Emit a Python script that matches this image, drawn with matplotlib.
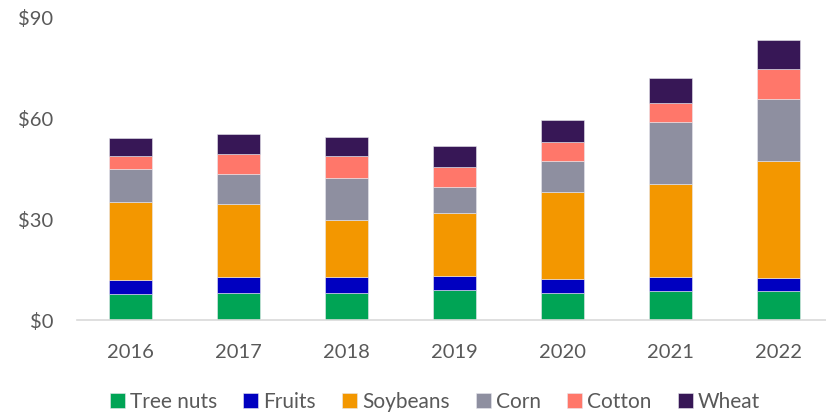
import numpy as np
import matplotlib.pyplot as plt

plt.rcParams['font.family'] = ['Lato', 'DejaVu Sans']

years = ['2016', '2017', '2018', '2019', '2020', '2021', '2022']
crops = ['Tree nuts', 'Fruits', 'Soybeans', 'Corn', 'Cotton', 'Wheat']
colors = ['#00A455', '#0000C0', '#F39700', '#8E8FA0', '#FF776A', '#371756']

# export values by crop, billions of dollars
tree_nuts = [7.8, 8.2, 8.2, 8.9, 8.2, 8.7, 8.8]
fruits = [4.3, 4.7, 4.7, 4.3, 4.2, 4.3, 3.9]
soybeans = [23.0, 21.6, 17.0, 18.6, 25.6, 27.5, 34.6]
corn = [9.8, 9.0, 12.5, 7.7, 9.2, 18.5, 18.4]
cotton = [4.0, 5.9, 6.5, 6.1, 5.9, 5.7, 9.1]
wheat = [5.3, 6.0, 5.5, 6.3, 6.4, 7.2, 8.4]

series = [tree_nuts, fruits, soybeans, corn, cotton, wheat]

fig, ax = plt.subplots(figsize=(8.26, 4.15), dpi=100)
fig.subplots_adjust(left=0.093, right=1.008, top=0.958, bottom=0.228)

x = np.arange(len(years))
bottom = np.zeros(len(years))
for name, vals, c in zip(crops, series, colors):
    ax.bar(x, vals, 0.4, bottom=bottom, color=c, label=name,
           edgecolor='#e8e8ee', linewidth=0.4)
    bottom += np.array(vals)

ax.set_ylim(0, 90)
ax.set_xlim(-0.5, len(years) - 0.5)
ax.set_yticks([0, 30, 60, 90])
ax.set_yticklabels(['$0', '$30', '$60', '$90'])
ax.set_xticks(x)
ax.set_xticklabels(years)
ax.tick_params(length=0, labelsize=14.5, colors='#595959')
ax.tick_params(axis='y', pad=17)
ax.tick_params(axis='x', pad=17)

for s in ['top', 'right', 'left']:
    ax.spines[s].set_visible(False)
ax.spines['bottom'].set_color('#d9d9d9')
ax.spines['bottom'].set_linewidth(1.2)

leg = ax.legend(loc='upper center', bbox_to_anchor=(0.474, -0.208), ncol=6,
                frameon=False, fontsize=15, handlelength=0.72, handleheight=0.72,
                handletextpad=0.25, columnspacing=1.25, borderaxespad=0)
for t in leg.get_texts():
    t.set_color('#595959')

plt.savefig('out.png')
